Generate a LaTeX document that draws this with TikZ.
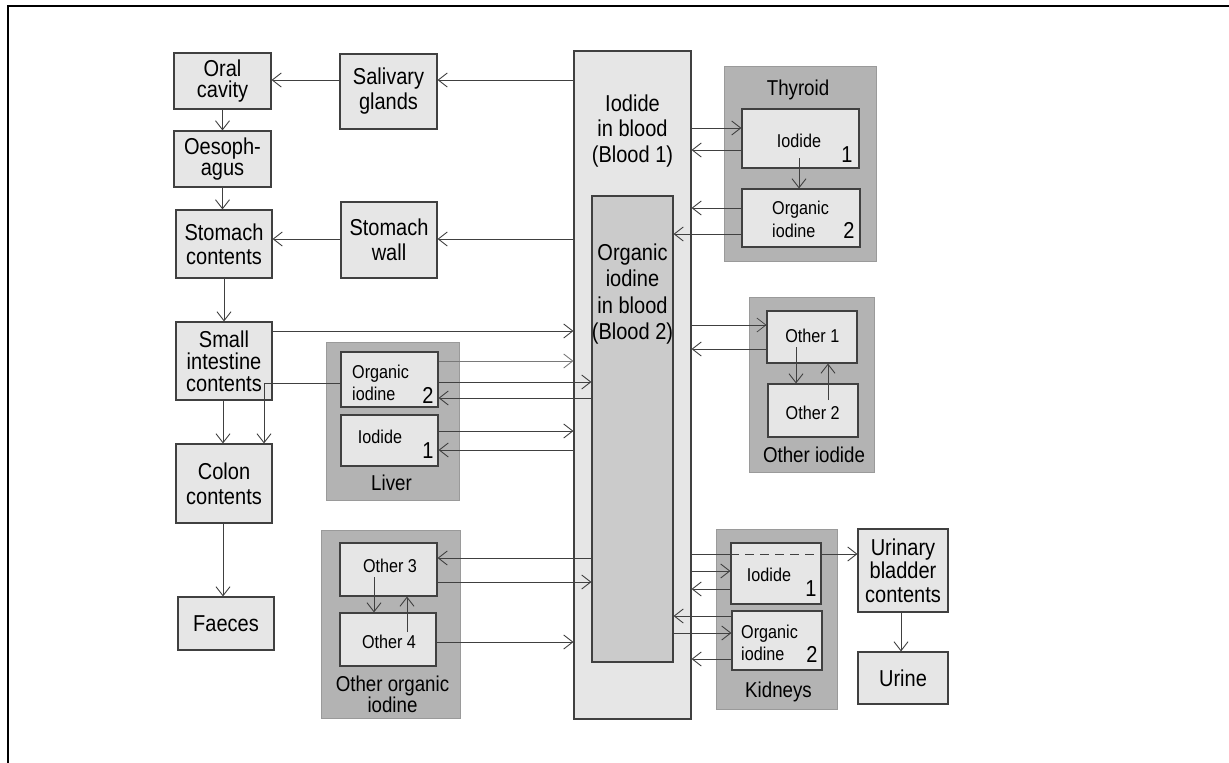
\documentclass[tikz,border=0pt]{standalone}
\usepackage{fontspec}
\setmainfont[FakeStretch=0.87]{Liberation Sans}
\usetikzlibrary{arrows.meta}
\definecolor{boxfill}{HTML}{E6E6E6}
\definecolor{bloodtwo}{HTML}{CBCBCB}
\definecolor{grpfill}{HTML}{B3B3B3}
\definecolor{grpdraw}{HTML}{9A9A9A}
\definecolor{linec}{HTML}{404040}
\newcommand\mainf{\fontsize{23}{25}\selectfont}
\newcommand\tightf{\fontsize{23}{21.8}\selectfont}
\newcommand\grpf{\fontsize{21.5}{20.5}\selectfont}
\newcommand\smallf{\fontsize{18.6}{22.5}\selectfont}
\tikzset{
  box/.style={draw=linec, fill=boxfill, line width=1.1pt, inner sep=0pt, align=center, font=\mainf},
  grp/.style={draw=grpdraw, fill=grpfill, line width=0.8pt, inner sep=0pt},
  txt/.style={inner sep=0pt, align=center, font=\mainf},
  stxt/.style={inner sep=0pt, font=\smallf},
  gtxt/.style={inner sep=0pt, align=center, font=\grpf},
  ntxt/.style={inner sep=0pt, font=\mainf, anchor=base},
  arr/.style={draw=linec, line width=0.9pt, -{Straight Barb[length=9pt,width=14pt]}},
  ln/.style={draw=linec, line width=0.9pt},
}
\begin{document}
\begin{tikzpicture}[x=1pt,y=-1pt]
\useasboundingbox (0,0) rectangle (1229,763);
\draw[line width=2pt] (7.5,763) -- (7.5,6) -- (1229,6);

% groups
\node[grp, minimum width=133, minimum height=158] (liverG) at (392.5,421) {};
\node[grp, minimum width=139, minimum height=188] (ooG) at (390.5,624) {};
\node[grp, minimum width=152, minimum height=195] (thyG) at (800,163.5) {};
\node[grp, minimum width=125, minimum height=175] (oiG) at (811.5,384.5) {};
\node[grp, minimum width=121, minimum height=180] (kidG) at (776.5,619) {};

% group labels
\node[gtxt, anchor=base] (thyL) at (798,95) {Thyroid};
\node[gtxt, anchor=base] (livL) at (391.5,490.5) {Liver};
\node[gtxt] (ooL) at (392.5,694.5) {Other organic\\iodine};
\node[gtxt, anchor=base] (oiL) at (814,462) {Other iodide};
\node[gtxt, anchor=base] (kidL) at (778.5,697) {Kidneys};

% left column
\node[box, minimum width=97, minimum height=56, font=\tightf] (oral) at (222.5,81) {Oral\\cavity};
\node[box, minimum width=97, minimum height=75] (saliv) at (388.5,91.5) {Salivary\\glands};
\node[box, minimum width=97, minimum height=56, font=\tightf] (oeso) at (222.5,159) {Oesoph-\\agus};
\node[box, minimum width=96, minimum height=68, font=\fontsize{23}{24}\selectfont] (stomc) at (224,244) {Stomach\\contents};
\node[box, minimum width=96, minimum height=76] (stomw) at (389,240) {Stomach\\wall};
\node[box, minimum width=96, minimum height=78, font=\fontsize{23}{22}\selectfont] (small) at (224,361) {Small\\intestine\\contents};
\node[box, minimum width=96, minimum height=79] (colon) at (224,483.5) {Colon\\contents};
\node[box, minimum width=96, minimum height=53] (faeces) at (226,623.5) {Faeces};

% blood
\node[box, minimum width=117, minimum height=668] (blood1) at (632.5,385) {};
\node[txt, font=\fontsize{23}{25.7}\selectfont] (b1txt) at (632.5,131) {Iodide\\in blood\\(Blood 1)};
\node[box, fill=bloodtwo, minimum width=81, minimum height=466] (blood2) at (632.5,429) {};
\node[txt, font=\fontsize{23}{26.5}\selectfont] (b2txt) at (632.5,294) {Organic\\iodine\\in blood\\(Blood 2)};

% liver
\node[box, minimum width=97, minimum height=55] (liverO) at (389.5,379.5) {};
\node[stxt, align=left, anchor=west] (liverOt) at (352,383) {Organic\\iodine};
\node[ntxt] (liverOn) at (428,403) {2};
\node[box, minimum width=97, minimum height=51] (liverI) at (389.5,440.5) {};
\node[stxt, anchor=base] (liverIt) at (380,443) {Iodide};
\node[ntxt] (liverIn) at (428,458) {1};

% other organic iodine
\node[box, minimum width=97, minimum height=53] (o3) at (388.5,569.5) {};
\node[stxt, anchor=base] (o3t) at (390,572) {Other 3};
\node[box, minimum width=96, minimum height=53] (o4) at (388,639.5) {};
\node[stxt, anchor=base] (o4t) at (389,648) {Other 4};

% thyroid
\node[box, minimum width=117, minimum height=59] (thyI) at (800.5,138.5) {};
\node[stxt, anchor=base] (thyIt) at (799,147) {Iodide};
\node[ntxt] (thyIn) at (847,162) {1};
\node[box, minimum width=118, minimum height=58] (thyO) at (801,218) {};
\node[stxt, align=left, anchor=west] (thyOt) at (772,219.5) {Organic\\iodine};
\node[ntxt] (thyOn) at (849,238) {2};

% other iodide
\node[box, minimum width=90, minimum height=52] (o1) at (812,337) {};
\node[stxt, anchor=base] (o1t) at (812.3,342) {Other 1};
\node[box, minimum width=90, minimum height=53] (o2) at (813,410.5) {};
\node[stxt, anchor=base] (o2t) at (812.7,419) {Other 2};

% kidneys
\node[box, minimum width=90, minimum height=61] (kidI) at (776,573.5) {};
\node[stxt, anchor=base] (kidIt) at (769,581) {Iodide};
\node[ntxt] (kidIn) at (811,596) {1};
\node[box, minimum width=90, minimum height=59] (kidO) at (777,640.5) {};
\node[stxt, align=left, anchor=west] (kidOt) at (741,643) {Organic\\iodine};
\node[ntxt] (kidOn) at (812,662) {2};

% bladder
\node[box, minimum width=90, minimum height=83, font=\fontsize{23}{23.7}\selectfont] (ubc) at (903,570.5) {Urinary\\bladder\\contents};
\node[box, minimum width=90, minimum height=52] (urine) at (903,678) {Urine};

% connectors, left
\draw[arr] (blood1.west |- 0,80) -- (saliv.east |- 0,80);
\draw[arr] (saliv.west |- 0,80) -- (oral.east |- 0,80);
\draw[arr] (oral.south) -- (oeso.north);
\draw[arr] (oeso.south) -- (oeso.south |- stomc.north);
\draw[arr] (blood1.west |- 0,239) -- (stomw.east |- 0,239);
\draw[arr] (stomw.west |- 0,239) -- (stomc.east |- 0,239);
\draw[arr] (stomc.south) -- (small.north);
\draw[arr] (small.east |- 0,331) -- (blood1.west |- 0,331);
\draw[arr, draw=linec!70] (liverO.east |- 0,361) -- (blood1.west |- 0,361);
\draw[arr] (liverO.east |- 0,382) -- (blood2.west |- 0,382);
\draw[arr] (blood2.west |- 0,398) -- (liverO.east |- 0,398);
\draw[arr] (liverO.west |- 0,383) -| (colon.north -| 264,0);
\draw[arr] (small.south -| 223,0) -- (colon.north -| 223,0);
\draw[arr] (liverI.east |- 0,431) -- (blood1.west |- 0,431);
\draw[arr] (blood1.west |- 0,450) -- (liverI.east |- 0,450);
\draw[arr] (colon.south -| 223,0) -- (faeces.north -| 223,0);
\draw[arr] (blood2.west |- 0,558) -- (o3.east |- 0,558);
\draw[arr] (o3.east |- 0,582) -- (blood2.west |- 0,582);
\coordinate (o3s) at (374,577);
\draw[arr] (o3s) -- (o3s |- o4.north);
\coordinate (o4s) at (407,632);
\draw[arr] (o4s) -- (o4s |- o3.south);
\draw[arr] (o4.east |- 0,642) -- (blood1.west |- 0,642);

% connectors, right
\draw[arr] (blood1.east |- 0,128) -- (thyI.west |- 0,128);
\draw[arr] (thyI.west |- 0,150) -- (blood1.east |- 0,150);
\coordinate (thys) at (799,158);
\draw[arr] (thys) -- (thys |- thyO.north);
\draw[arr] (thyO.west |- 0,208) -- (blood1.east |- 0,208);
\draw[arr] (thyO.west |- 0,234) -- (blood2.east |- 0,234);
\draw[arr, line width=0.7pt] (blood1.east |- 0,325) -- (o1.west |- 0,325);
\draw[arr] (o1.west |- 0,349) -- (blood1.east |- 0,349);
\coordinate (o1s) at (796,347);
\draw[arr] (o1s) -- (o1s |- o2.north);
\coordinate (o2s) at (828,400);
\draw[arr] (o2s) -- (o2s |- o1.south);
\draw[ln] (blood1.east |- 0,554) -- (kidI.west |- 0,554);
\draw[ln, dash pattern=on 9pt off 6pt] (kidI.west |- 0,554) -- (kidI.east |- 0,554);
\draw[arr] (kidI.east |- 0,554) -- (ubc.west |- 0,554);
\draw[arr] (blood1.east |- 0,571) -- (kidI.west |- 0,571);
\draw[arr] (kidI.west |- 0,589) -- (blood1.east |- 0,589);
\draw[arr] (kidO.west |- 0,616) -- (blood2.east |- 0,616);
\draw[arr] (blood2.east |- 0,633) -- (kidO.west |- 0,633);
\draw[arr] (kidO.west |- 0,659) -- (blood1.east |- 0,659);
\draw[arr] (ubc.south -| 901,0) -- (urine.north -| 901,0);
\end{tikzpicture}
\end{document}
